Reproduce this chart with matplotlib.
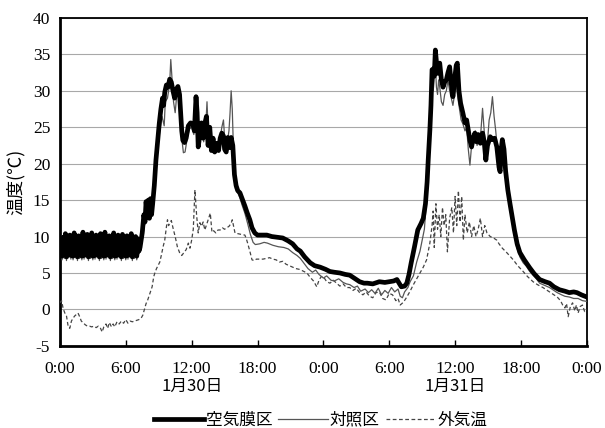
import numpy as np
import matplotlib
matplotlib.use("Agg")
import matplotlib.pyplot as plt

plt.rcParams['font.family'] = ['Liberation Serif', 'Noto Sans CJK JP', 'DejaVu Sans']
plt.rcParams['axes.unicode_minus'] = False

# ---- data (hours from 0:00 on 1/30) ----
# night oscillation segment (0:00 - 7:12), same spacing for both greenhouse series
osc_start, osc_end = 0.0, 7.2
film_osc = [8.0, 9.6, 7.3, 9.9, 7.5, 10.4, 7.2, 9.7, 7.6, 10.2, 7.4, 9.5, 7.3, 10.5, 7.6, 9.8,
            7.2, 10.1, 7.5, 9.6, 7.3, 10.6, 7.4, 9.7, 7.6, 10.3, 7.2, 9.9, 7.5, 10.5, 7.3, 9.6,
            7.4, 10.2, 7.6, 9.8, 7.2, 10.4, 7.5, 9.7, 7.3, 10.6, 7.4, 9.9, 7.6, 10.1, 7.2, 9.6,
            7.5, 10.5, 7.3, 9.8, 7.4, 10.2, 7.6, 9.7, 7.2, 10.3, 7.5, 9.9, 7.3, 10.1, 7.4, 9.6,
            7.6, 10.4, 7.2, 9.8, 7.5, 10.0, 7.3, 9.7, 8.0]
ctrl_osc = [7.5, 9.2, 6.8, 9.4, 7.0, 9.8, 6.7, 9.2, 7.1, 9.6, 6.9, 9.0, 6.8, 9.9, 7.1, 9.3,
            6.7, 9.5, 7.0, 9.1, 6.8, 10.0, 6.9, 9.2, 7.1, 9.7, 6.7, 9.4, 7.0, 9.9, 6.8, 9.1,
            6.9, 9.6, 7.1, 9.3, 6.7, 9.8, 7.0, 9.2, 6.8, 10.0, 6.9, 9.4, 7.1, 9.5, 6.7, 9.1,
            7.0, 9.9, 6.8, 9.3, 6.9, 9.6, 7.1, 9.2, 6.7, 9.7, 7.0, 9.4, 6.8, 9.5, 6.9, 9.1,
            7.1, 9.8, 6.7, 9.3, 7.0, 9.4, 6.8, 9.2, 7.6]

film_t = [7.3, 7.5, 7.65, 7.75, 7.85, 7.95, 8.05, 8.15, 8.25, 8.35, 8.45, 8.6, 8.75, 8.9, 9.05, 9.2,
          9.35, 9.45, 9.55, 9.7, 9.85, 10.0, 10.15, 10.3, 10.45, 10.6, 10.75, 10.9, 11.0, 11.1, 11.2,
          11.35, 11.5, 11.7, 11.9, 12.1, 12.25, 12.4, 12.5, 12.6, 12.75, 12.9, 13.05, 13.2, 13.35,
          13.5, 13.65, 13.8, 13.95, 14.1, 14.3, 14.45, 14.6, 14.75, 14.9, 15.0, 15.15, 15.3, 15.45,
          15.6, 15.75, 15.9, 16.05, 16.2, 16.4, 16.6, 16.85, 17.05, 17.3, 17.5, 17.75, 18.0, 18.4,
          18.85, 19.3, 19.8, 20.3, 20.8, 21.2, 21.6, 21.9, 22.3, 22.8, 23.2, 23.7, 24.2, 24.6, 25.0,
          25.5, 26.0, 26.4, 26.9, 27.3, 27.7, 28.0, 28.5, 29.1, 29.6, 30.0, 30.4, 30.7, 31.1, 31.4,
          31.6, 31.8, 32.0, 32.3, 32.6, 32.9, 33.1, 33.3, 33.45, 33.55, 33.7, 33.8, 33.9, 34.0, 34.1,
          34.2, 34.3, 34.4, 34.5, 34.6, 34.75, 34.9, 35.05, 35.2, 35.35, 35.5, 35.65, 35.8, 35.95,
          36.1, 36.2, 36.35, 36.5, 36.7, 36.9, 37.05, 37.2, 37.35, 37.5, 37.65, 37.8, 37.95, 38.1,
          38.3, 38.5, 38.65, 38.8, 38.95, 39.2, 39.4, 39.6, 39.8, 40.0, 40.1, 40.2, 40.3, 40.45,
          40.6, 40.8, 41.0, 41.2, 41.4, 41.65, 41.9, 42.3, 42.8, 43.2, 43.7, 44.2, 44.6, 45.0, 45.5,
          46.0, 46.4, 46.8, 47.1, 47.5, 48.0]
film_v = [8.5, 10.5, 13, 12, 14.8, 13, 15, 12.5, 15.2, 13, 14.5, 17, 20.5, 23, 25.5, 27.5,
          29, 28, 29.8, 30.8, 30.5, 31.6, 31.2, 30, 29, 30.2, 30.6, 29.5, 27, 24.5, 23.2,
          22.9, 23.5, 25.2, 25.6, 25.5, 24.5, 29.2, 27, 22.3, 24, 25.6, 23.5, 25.5, 26.5,
          22.5, 25, 21.8, 23.5, 21.6, 22.8, 21.8, 23.5, 24.2, 23.8, 22, 21.6, 23.6, 22.2,
          23.6, 22.5, 18.5, 17, 16.3, 16, 15.2, 14.2, 13.3, 12.3, 11.2, 10.5, 10.2, 10.2,
          10.2, 10.0, 9.9, 9.8, 9.4, 9.0, 8.3, 8.0, 7.2, 6.4, 6.0, 5.8, 5.5, 5.2, 5.1,
          5.0, 4.8, 4.7, 4.2, 3.8, 3.6, 3.6, 3.5, 3.8, 3.7, 3.8, 3.9, 4.1, 3.1, 3.2,
          3.6, 4.8, 6.4, 8.6, 10.9, 11.8, 12.5, 14.5, 17.5, 20.5, 24.6, 28, 32.9, 33, 32,
          35.6, 34, 32.4, 33.5, 33.8, 31.5, 30.5, 31.2, 31.5, 32.5, 33.3, 31, 29.2, 31.5,
          33.5, 33.8, 30, 28.3, 27, 25.6, 26, 24.6, 23.2, 22.3, 23.5, 24.2, 23, 24,
          22.8, 24.2, 23, 20.5, 22.5, 23.7, 23.3, 23.5, 22.3, 19.5, 18.9, 22, 23.3, 22,
          19, 16.4, 14.5, 12.7, 10.9, 9.0, 7.8, 6.8, 5.7, 4.9, 4.1, 3.8, 3.6, 3.1, 2.7,
          2.5, 2.3, 2.4, 2.3, 2.0, 1.7]

ctrl_t = [7.3, 7.5, 7.7, 7.9, 8.1, 8.3, 8.5, 8.7, 8.9, 9.1, 9.3, 9.5, 9.6, 9.8, 10.0, 10.1, 10.2,
          10.35, 10.5, 10.65, 10.8, 10.95, 11.1, 11.25, 11.4, 11.6, 11.8, 12.0, 12.2, 12.4, 12.55,
          12.7, 12.9, 13.1, 13.3, 13.4, 13.55, 13.7, 13.85, 14.0, 14.2, 14.4, 14.6, 14.75, 14.9,
          15.05, 15.2, 15.4, 15.5, 15.6, 15.7, 15.85, 16.0, 16.2, 16.4, 16.6, 16.85, 17.1, 17.35,
          17.6, 17.8, 18.2, 18.6, 18.9, 19.4, 19.9, 20.4, 20.8, 21.2, 21.6, 21.9, 22.3, 22.6, 23.0,
          23.3, 23.6, 24.0, 24.3, 24.7, 25.0, 25.4, 25.8, 26.1, 26.4, 26.8, 27.1, 27.4, 27.8, 28.1,
          28.4, 28.7, 29.0, 29.3, 29.6, 29.9, 30.2, 30.5, 30.8, 31.0, 31.2, 31.4, 31.7, 31.9, 32.2,
          32.5, 32.8, 33.0, 33.2, 33.35, 33.5, 33.6, 33.7, 33.8, 33.9, 34.0, 34.1, 34.2, 34.3, 34.4,
          34.5, 34.6, 34.75, 34.9, 35.05, 35.2, 35.35, 35.5, 35.65, 35.8, 35.95, 36.1, 36.25, 36.4,
          36.55, 36.7, 36.9, 37.05, 37.2, 37.35, 37.5, 37.7, 37.85, 38.0, 38.2, 38.35, 38.5, 38.65,
          38.8, 38.95, 39.1, 39.25, 39.4, 39.55, 39.7, 39.85, 40.0, 40.15, 40.3, 40.45, 40.6, 40.8,
          41.0, 41.2, 41.4, 41.6, 41.9, 42.2, 42.5, 42.8, 43.1, 43.4, 43.7, 44.0, 44.3, 44.6, 45.0,
          45.3, 45.7, 46.0, 46.4, 46.8, 47.2, 47.6, 48.0]
ctrl_v = [8.0, 9.5, 11.5, 13.5, 13, 14.5, 15, 19, 22, 24.5, 26.5, 25.2, 28.5, 29, 31, 34.3, 32,
          28.5, 27, 29.5, 30, 28, 23.5, 21.5, 21.6, 23.5, 24.8, 25, 24, 28, 26,
          23, 25, 23, 25.5, 28.5, 23, 25, 22, 23, 21.8, 23, 23.5, 25, 26,
          22.5, 22.5, 24.5, 27, 30, 27.5, 20, 16.5, 16, 15.3, 14.3, 13.2, 11.8, 10.3,
          9.2, 8.9, 9.0, 9.2, 9.1, 8.8, 8.6, 8.5, 8.3, 7.8, 7.4, 7.0, 6.2, 5.6, 5.1,
          5.4, 4.8, 4.3, 4.6, 4.0, 3.9, 4.2, 3.7, 3.5, 3.4, 3.0, 3.2, 2.5, 2.8, 2.3,
          2.7, 2.2, 2.9, 2.0, 2.6, 2.2, 3.0, 2.4, 2.8, 1.8, 1.6, 2.4, 3.0, 3.8, 4.6,
          6.5, 8.0, 9.5, 11, 14, 18, 21, 24, 27.5, 31, 30, 31.5, 33.5, 30.5, 29.5,
          31.5, 30.5, 28.5, 28, 29.5, 30, 31.5, 30, 29, 28, 29.5, 31, 29, 27.5,
          26, 25.5, 24.5, 25, 22, 19.8, 22.5, 23, 24.5, 22.5, 23.5, 24.5, 27.6, 24.5,
          22, 23, 26, 27, 29.2, 26.5, 24.5, 22, 19.5, 21, 22.5, 21, 18.5, 15.8,
          13.8, 12, 10.2, 8.6, 7.2, 6.4, 5.9, 5.2, 4.7, 4.2, 3.6, 3.4, 3.2, 3.0, 2.6,
          2.3, 2.0, 1.8, 1.7, 1.5, 1.5, 1.2, 1.1]

out_t = [0, 0.15, 0.3, 0.45, 0.6, 0.75, 0.9, 1.05, 1.2, 1.35, 1.5, 1.65, 1.8, 1.95, 2.1, 2.3, 2.5,
         2.7, 2.9, 3.1, 3.3, 3.5, 3.7, 3.85, 4.0, 4.2, 4.35, 4.5, 4.7, 4.85, 5.0, 5.2, 5.4, 5.6,
         5.8, 6.0, 6.2, 6.4, 6.6, 6.8, 7.0, 7.2, 7.4, 7.55, 7.7, 7.85, 8.0, 8.2, 8.4, 8.55, 8.65,
         8.8, 9.0, 9.1, 9.25, 9.4, 9.55, 9.7, 9.8, 9.9, 10.0, 10.15, 10.3, 10.5, 10.7, 10.9, 11.1,
         11.3, 11.5, 11.7, 11.85, 12.0, 12.15, 12.3, 12.45, 12.6, 12.75, 12.9, 13.05, 13.2, 13.4,
         13.55, 13.7, 13.85, 14.0, 14.2, 14.4, 14.6, 14.8, 15.0, 15.2, 15.4, 15.6, 15.7, 15.85,
         15.95, 16.2, 16.5, 16.85, 17.0, 17.1, 17.3, 17.5, 17.7, 17.9, 18.2, 18.5, 18.8, 19.1,
         19.4, 19.7, 20.0, 20.3, 20.6, 20.9, 21.2, 21.5, 21.8, 22.1, 22.5, 22.8, 23.1, 23.4, 23.6,
         23.8, 24.0, 24.3, 24.6, 24.9, 25.2, 25.5, 25.8, 26.1, 26.4, 26.7, 27.0, 27.3, 27.6, 27.9,
         28.2, 28.5, 28.8, 29.1, 29.4, 29.7, 30.0, 30.3, 30.6, 30.8, 31.0, 31.3, 31.6, 31.9, 32.2,
         32.5, 32.8, 33.1, 33.4, 33.7, 33.9, 34.0, 34.1, 34.25, 34.4, 34.55, 34.7, 34.85, 35.0,
         35.15, 35.3, 35.5, 35.7, 35.85, 36.0, 36.15, 36.3, 36.45, 36.6, 36.75, 36.9, 37.1, 37.3,
         37.5, 37.7, 37.9, 38.1, 38.3, 38.5, 38.7, 38.9, 39.2, 39.5, 39.8, 40.0, 40.3, 40.7, 41.0,
         41.3, 41.7, 42.2, 42.6, 43.1, 43.5, 44.0, 44.5, 45.0, 45.3, 45.6, 45.8, 46.0, 46.15, 46.3,
         46.5, 46.7, 46.9, 47.05, 47.2, 47.4, 47.6, 47.8, 48.0]
out_v = [0.9, 1.2, 0.1, -0.5, -0.9, -2.3, -2.6, -1.6, -1.2, -0.9, -0.7, -0.5, -1.0, -1.6, -1.8, -2.1, -2.3,
         -2.3, -2.4, -2.3, -2.5, -2.3, -2.6, -3.1, -2.4, -2.0, -2.6, -1.8, -2.4, -2.0, -2.4, -1.7, -2.0, -1.6,
         -1.9, -1.4, -1.9, -1.6, -1.7, -1.6, -1.5, -1.4, -1.2, -0.8, 0.0, 0.8, 1.3, 2.2, 3.1, 4.5, 5.0,
         5.6, 6.2, 6.5, 7.5, 8.6, 9.5, 11.3, 12.3, 11.5, 11.8, 12.2, 11.2, 10.0, 8.6, 7.8, 7.4,
         7.8, 8.2, 9.1, 8.4, 9.5, 11.0, 16.4, 13.0, 10.5, 11.9, 11.4, 12.0, 10.9, 11.8,
         12.5, 13.2, 10.6, 10.8, 10.5, 10.9, 10.9, 11.2, 11.0, 11.2, 11.4, 11.8, 12.3, 11.2,
         10.5, 10.4, 10.3, 10.2, 9.6, 9.1, 8.0, 6.8, 6.7, 6.9, 6.9, 6.9, 7.0, 7.1,
         6.9, 6.8, 6.5, 6.6, 6.2, 6.0, 5.8, 5.6, 5.5, 5.3, 5.0, 4.4, 3.9, 3.1, 4.0,
         4.5, 4.5, 3.8, 3.6, 4.0, 3.6, 3.2, 3.5, 3.0, 3.0, 2.6, 2.9, 2.3, 2.0, 2.4,
         1.8, 1.6, 2.3, 2.4, 1.5, 1.3, 2.2, 2.0, 1.2, 1.5, 0.6, 1.0, 1.7, 2.5, 3.4,
         4.2, 5.0, 5.8, 6.8, 9.1, 11.5, 13.5, 8.5, 14.5, 11.0, 13.0, 10.0, 14.0, 11.5,
         13.0, 7.9, 12.5, 14.0, 10.5, 15.5, 11.5, 16.3, 12.0, 15.5, 9.5, 13.0, 10.5, 12.0,
         10.0, 11.5, 10.0, 11.0, 12.5, 10.0, 11.5, 10.5, 10.0, 9.8, 9.5, 9.0, 8.4, 7.8, 7.3,
         6.8, 6.0, 5.2, 4.5, 3.8, 3.4, 3.0, 2.5, 2.0, 1.7, 1.2, 0.6, 0.2, 0.8, -1.0,
         0.4, 0.9, -0.2, 0.6, -0.5, 0.4, 0.6, -0.3, 0.0]

tick_hours = [0, 6, 12, 18, 24, 30, 36, 42, 48]
tick_labels = ["0:00", "6:00", "12:00", "18:00", "0:00", "6:00", "12:00", "18:00", "0:00"]
date_hours = [12, 36]
date_labels = ["1月30日", "1月31日"]
series_names = ["空気膜区", "対照区", "外気温"]
y_label = "温度(℃)"

# ---- assemble ----
film_tt = np.concatenate([np.linspace(osc_start, osc_end, len(film_osc)), film_t])
film_vv = np.concatenate([film_osc, film_v])
ctrl_tt = np.concatenate([np.linspace(osc_start, osc_end, len(ctrl_osc)), ctrl_t])
ctrl_vv = np.concatenate([ctrl_osc, ctrl_v])

cjk = ['Noto Sans CJK JP', 'DejaVu Sans']

fig = plt.figure(figsize=(6.05, 4.28), dpi=100)
ax = fig.add_axes([0.099, 0.192, 0.871, 0.766])

ax.plot(out_t, out_v, color='#444444', lw=0.9, ls=(0, (3, 2)), label=series_names[2], zorder=3)
ax.plot(ctrl_tt, ctrl_vv, color='#555555', lw=0.9, label=series_names[1], zorder=4)
ax.plot(film_tt, film_vv, color='black', lw=3.4, label=series_names[0], zorder=5)

ax.set_xlim(0, 48)
ax.set_ylim(-5, 40)
ax.set_yticks(range(-5, 41, 5))
ax.set_xticks(tick_hours)
ax.set_xticklabels(tick_labels)
ax.yaxis.grid(True, color='#a8a8a8', lw=0.8)
ax.set_axisbelow(True)
ax.tick_params(axis='x', direction='in', length=4, width=1, labelsize=12.5, pad=11)
ax.tick_params(axis='y', length=0, labelsize=12.5, pad=7)
for s in ['left', 'bottom']:
    ax.spines[s].set_linewidth(2.0)
for s in ['top', 'right']:
    ax.spines[s].set_linewidth(1.3)

for h, lab in zip(date_hours, date_labels):
    ax.text(h, -0.125, lab, transform=ax.get_xaxis_transform(), ha='center', va='center',
            fontsize=12, family=cjk)

ax.set_ylabel(y_label, fontsize=13, family=cjk, labelpad=6)

handles, labels = ax.get_legend_handles_labels()
order = [2, 1, 0]
fig.legend([handles[i] for i in order], [labels[i] for i in order], loc='center',
           bbox_to_anchor=(0.53, 0.019), ncol=3, frameon=False, handlelength=3.0,
           columnspacing=0.35, handletextpad=0.1, borderpad=0.0,
           prop={'family': cjk, 'size': 12})

fig.savefig("out.png", dpi=100)
